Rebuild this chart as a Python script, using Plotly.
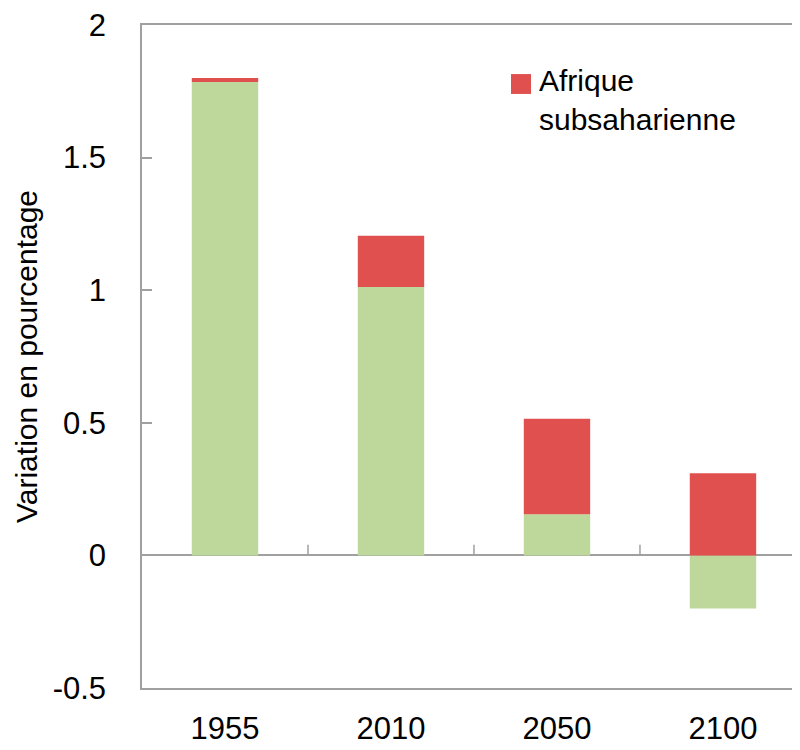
import plotly.graph_objects as go

categories = ["1955", "2010", "2050", "2100"]
rest_values = [1.785, 1.012, 0.155, -0.20]
ssa_values = [0.015, 0.193, 0.36, 0.31]
ssa_name = "Afrique<br>subsaharienne"
y_ticks = [-0.5, 0, 0.5, 1, 1.5, 2]
y_tick_labels = ["-0.5", "0", "0.5", "1", "1.5", "2"]

FONT = "Liberation Sans, Arial, sans-serif"
GREEN = "#BED89B"
RED = "#E0504F"
AXIS = "#A0A0A0"

x_idx = list(range(len(categories)))

fig = go.Figure()
fig.add_trace(go.Bar(x=x_idx, y=rest_values, marker=dict(color=GREEN, line=dict(width=0)),
                     width=0.4, showlegend=False, name="Reste"))
fig.add_trace(go.Bar(x=x_idx, y=ssa_values, marker=dict(color=RED, line=dict(width=0)),
                     width=0.4, showlegend=False, name=ssa_name))

# category separator ticks on the zero line
for i in range(len(categories) - 1):
    fig.add_shape(type="line", xref="x", yref="y", x0=i + 0.5, x1=i + 0.5,
                  y0=0, y1=0.04, line=dict(color=AXIS, width=1.5))

# legend (swatch + label)
fig.add_shape(type="rect", xref="paper", yref="paper",
              x0=0.5608, x1=0.5912, y0=0.896, y1=0.926,
              fillcolor=RED, line=dict(width=0))
fig.add_annotation(xref="paper", yref="paper", x=0.60, y=0.944,
                   xanchor="left", yanchor="top", align="left", showarrow=False,
                   text=ssa_name, font=dict(family=FONT, size=30, color="black"))

# the page body has an 8px margin: size the figure so the plot lands where the reference has it
fig.update_layout(
    width=792, height=742,
    barmode="relative",
    plot_bgcolor="white", paper_bgcolor="white",
    margin=dict(l=134, r=0, t=17, b=62),
    font=dict(family=FONT, size=31, color="black"),
    showlegend=False,
    xaxis=dict(range=[-0.5, 3.464], tickvals=x_idx, ticktext=categories,
               showline=True, linecolor=AXIS, linewidth=1.5, mirror=True,
               ticks="", showgrid=False, zeroline=False, automargin=False,
               ticklabelstandoff=12, tickfont=dict(size=31)),
    yaxis=dict(range=[-0.5, 2], tickvals=y_ticks, ticktext=y_tick_labels,
               showline=True, linecolor=AXIS, linewidth=1.5,
               ticks="inside", ticklen=10, tickcolor=AXIS, tickwidth=1.5,
               showgrid=False, zeroline=True, zerolinecolor=AXIS, zerolinewidth=1.5,
               automargin=False, ticklabeloverflow="allow",
               ticklabelstandoff=28, tickfont=dict(size=31),
               title=dict(text="Variation en pourcentage", font=dict(size=30), standoff=6)),
)

fig.write_html("out.html")
